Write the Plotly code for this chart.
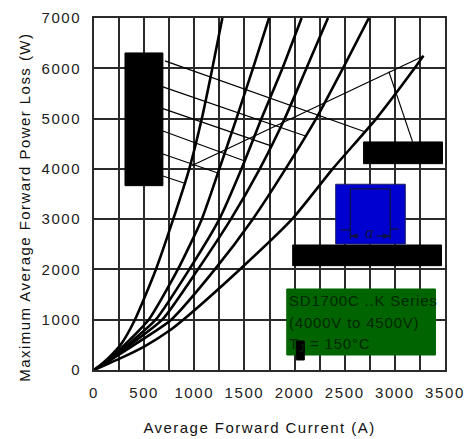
import plotly.graph_objects as go

# Curve readings: average forward current (A) against power loss (W), leftmost to rightmost
power_1 = [0, 100, 250, 500, 1000, 2000, 3000, 4000, 5000, 6000, 7000]
current_1 = [0, 65, 150, 265, 408, 617, 790, 950, 1075, 1180, 1280]
power_2 = [0, 100, 250, 500, 1000, 2000, 3000, 4000, 5000, 6000, 7000]
current_2 = [0, 70, 170, 305, 545, 836, 1075, 1250, 1420, 1585, 1745]
power_3 = [0, 100, 250, 500, 1000, 2000, 3000, 4000, 5000, 6000, 7000]
current_3 = [0, 75, 180, 335, 615, 950, 1250, 1471, 1670, 1879, 2070]
power_4 = [0, 100, 250, 500, 1000, 2000, 3000, 4000, 5000, 6000, 7000]
current_4 = [0, 80, 190, 360, 680, 1036, 1365, 1653, 1902, 2118, 2333]
power_5 = [0, 100, 250, 500, 1000, 2000, 3000, 4000, 5000, 6000, 7000]
current_5 = [0, 85, 205, 400, 770, 1205, 1583, 1910, 2215, 2482, 2741]
power_6 = [0, 90, 220, 465, 780, 1000, 2000, 3000, 4000, 5000, 6000, 6250]
current_6 = [0, 100, 250, 500, 750, 890, 1454, 1975, 2380, 2815, 3196, 3285]

x_ticks = [0, 500, 1000, 1500, 2000, 2500, 3000, 3500]
y_ticks = [0, 1000, 2000, 3000, 4000, 5000, 6000, 7000]

x_title = "Average Forward Current (A)"
y_title = "Maximum Average Forward Power Loss (W)"
note_lines = ["SD1700C ..K Series", "(4000V to 4500V)", "T<sub>J</sub> = 150°C"]

# Thin leader lines (x0, y0, x1, y1) in axis units
leaders = [
    (707, 6146, 2708, 4734),
    (687, 5629, 2108, 4654),
    (687, 5197, 1759, 4461),
    (687, 4754, 1503, 4157),
    (687, 4296, 1235, 3918),
    (687, 3859, 896, 3719),
    (973, 4063, 3286, 6245),
    (2940, 5933, 3176, 4541),
]

FONT = "Liberation Sans, Arial, sans-serif"
W, H = 471, 439
L, R, T, B = 94, 25.5, 18, 69


def px(x):
    return (x - L) / (W - L - R)


def py(y):
    return 1 - (y - T) / (H - T - B)


fig = go.Figure()
for cur, pwr in [(current_1, power_1), (current_2, power_2), (current_3, power_3),
                 (current_4, power_4), (current_5, power_5), (current_6, power_6)]:
    fig.add_trace(go.Scatter(x=cur, y=pwr, mode="lines", showlegend=False,
                             line=dict(color="black", width=2.6, shape="spline", smoothing=0.6)))

shapes = []
for x0, y0, x1, y1 in leaders:
    shapes.append(dict(type="line", x0=x0, y0=y0, x1=x1, y1=y1, line=dict(color="black", width=1.2)))


def rect(x0, x1, y0, y1, fill, line=None):
    shapes.append(dict(type="rect", x0=x0, x1=x1, y0=y0, y1=y1, fillcolor=fill,
                       line=dict(color=line or fill, width=1)))


rect(309, 687, 3666, 6305, "black")
rect(2688, 3475, 4103, 4535, "black")
rect(1981, 3465, 2075, 2486, "black")
rect(2410, 3104, 2506, 3694, "#0000d0", "#202060")
rect(1922, 3405, 298, 1611, "#006400")
rect(2017, 2097, 199, 577, "black")

# Inner outline of the blue block and its dimension marks
for x0, y0, x1, y1 in [(2556, 2606, 2556, 3600), (2556, 3600, 2954, 3600), (2954, 3600, 2954, 2606),
                       (2459, 2785, 2556, 2785), (2954, 2804, 3037, 2804),
                       (2559, 2665, 2640, 2665), (2815, 2665, 2950, 2665)]:
    shapes.append(dict(type="line", x0=x0, y0=y0, x1=x1, y1=y1, line=dict(color="#101040", width=1.3)))
for tip, back in [(2559, 2625), (2950, 2884)]:
    shapes.append(dict(type="path", path=f"M {tip} 2665 L {back} 2710 L {back} 2620 Z",
                       fillcolor="#101040", line=dict(color="#101040", width=0.5)))

annotations = [dict(x=2760, y=2720, xref="x", yref="y", text="<i>α</i>", showarrow=False,
                    font=dict(family="Liberation Sans", size=14, color="#101040"))]

annotations.append(dict(x=px(260), y=py(427), xref="paper", yref="paper", text=x_title, showarrow=False,
                        xanchor="center", yanchor="middle", font=dict(family=FONT, size=15, color="#111111")))
annotations.append(dict(x=px(24), y=py(207), xref="paper", yref="paper", text=y_title, textangle=-90,
                        xanchor="center", yanchor="middle", showarrow=False,
                        font=dict(family=FONT, size=15, color="#111111")))
for line, yp in zip(note_lines, [300, 322.5, 344]):
    annotations.append(dict(x=px(287.5), y=py(yp), xref="paper", yref="paper", text=line, showarrow=False,
                            xanchor="left", yanchor="middle", align="left",
                            font=dict(family=FONT, size=15, color="#002800")))

axis = dict(showgrid=True, gridcolor="#2a2a2a", gridwidth=1.5, zeroline=False, showline=True, linecolor="#2a2a2a",
            linewidth=1.5, mirror=True, ticks="", ticklabelstandoff=8,
            tickfont=dict(family=FONT, size=15, color="#222222"))
fig.update_xaxes(range=[0, 3500], tickmode="array", tickvals=x_ticks, ticktext=[str(v) for v in x_ticks],
                 minor=dict(tickmode="array", tickvals=[v + 250 for v in x_ticks[:-1]], showgrid=True,
                            gridcolor="#2a2a2a", gridwidth=1.5, ticks=""), **axis)
fig.update_yaxes(range=[0, 7000], tickmode="array", tickvals=y_ticks, ticktext=[str(v) for v in y_ticks], **axis)
fig.update_layout(width=W, height=H, margin=dict(l=L, r=R, t=T, b=B, autoexpand=False), plot_bgcolor="white",
                  paper_bgcolor="white", shapes=shapes, annotations=annotations, showlegend=False)

spacing_css = (
    "document.body.style.margin='0';"
    "var s=document.createElement('style');"
    "s.textContent='.xtick text,.ytick text{letter-spacing:1.6px}"
    ".annotation-text{letter-spacing:1.45px}"
    ".annotation-text[style*=\"rgb(0, 40, 0)\"]{letter-spacing:0.8px}';"
    "document.head.appendChild(s);"
)
fig.write_html("out.html", post_script=spacing_css, config={"displayModeBar": False})
